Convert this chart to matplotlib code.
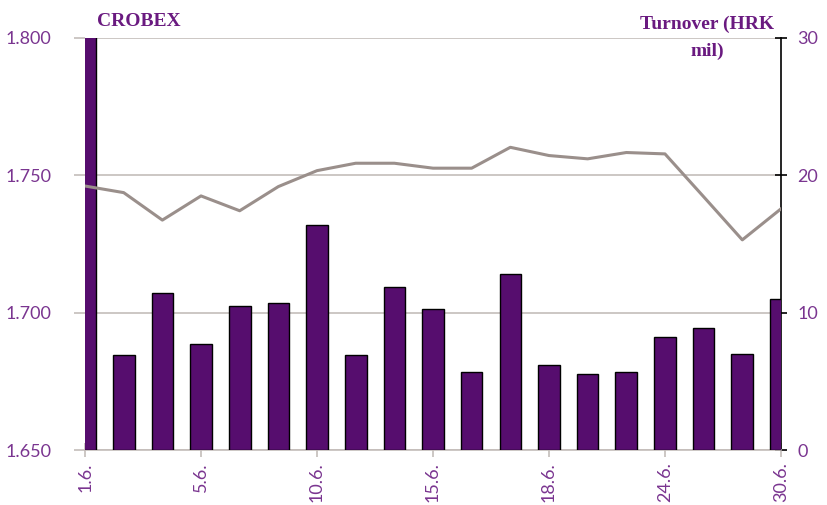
import numpy as np
import matplotlib
matplotlib.use("Agg")
import matplotlib.pyplot as plt
import matplotlib.ticker as tkr

#~~~~~~~~~~~~~~~~~~~~~~~~~~~~~~~~~~~~~~~~~~~~~~~~~~

# DATA

dates = ["1.6.", "2.6.", "3.6.", "5.6.", "8.6.", "9.6.", "10.6.", "11.6.",
         "12.6.", "15.6.", "16.6.", "17.6.", "18.6.", "19.6.", "23.6.",
         "24.6.", "26.6.", "29.6.", "30.6."]

crobex = [1.7461, 1.7437, 1.7337, 1.7425, 1.7371, 1.7459, 1.7517, 1.7544,
          1.7544, 1.7526, 1.7526, 1.7602, 1.7572, 1.7560, 1.7583, 1.7578,
          1.7422, 1.7265, 1.7378]

turnover = [31.5, 6.9, 11.4, 7.7, 10.5, 10.7, 16.4, 6.9, 11.9, 10.3, 5.7,
            12.8, 6.2, 5.5, 5.7, 8.2, 8.9, 7.0, 11.0]

#~~~~~~~~~~~~~~~~~~~~~~~~~~~~~~~~~~~~~~~~~~~~~~~~~~

# STYLE

PURPLE = "#560D6E"
TEXT = "#7A3590"
TITLE = "#6A1A80"
LINE = "#9A8F8B"
GRID = "#C4BDBA"

x = np.arange(len(dates))

#~~~~~~~~~~~~~~~~~~~~~~~~~~~~~~~~~~~~~~~~~~~~~~~~~~

# FIGURE AND AXES

figure, axBar = plt.subplots(figsize = (8.28, 5.05), dpi = 100)
figure.subplots_adjust(left = 0.1027, right = 0.9432, bottom = 0.1089, top = 0.9248)

axLine = axBar.twinx()

#~~~~~~~~~~~~~~~~~~~~~~~~~~~~~~~~~~~~~~~~~~~~~~~~~~

# BARS (right axis)

axBar.bar(x, turnover, width = 0.56, color = PURPLE, edgecolor = "black",
          linewidth = 1, zorder = 3)

axBar.set_xlim(0, len(dates) - 1)
axBar.set_ylim(0, 30)
axBar.yaxis.tick_right()
axBar.yaxis.set_major_locator(tkr.MultipleLocator(10))
axBar.grid(axis = "y", color = GRID, linewidth = 1.2, zorder = 0)
axBar.set_axisbelow(True)

axBar.set_xticks(x[::3])
axBar.set_xticklabels(dates[::3], rotation = 90)

#~~~~~~~~~~~~~~~~~~~~~~~~~~~~~~~~~~~~~~~~~~~~~~~~~~

# LINE (left axis)

axLine.plot(x, crobex, color = LINE, linewidth = 2.2, zorder = 4)
axLine.set_ylim(1.650, 1.800)
axLine.yaxis.tick_left()
axLine.yaxis.set_major_locator(tkr.MultipleLocator(0.05))
axLine.yaxis.set_major_formatter(tkr.FormatStrFormatter("%.3f"))

#~~~~~~~~~~~~~~~~~~~~~~~~~~~~~~~~~~~~~~~~~~~~~~~~~~

# SPINES AND TICKS

for ax in (axBar, axLine):
    ax.spines["top"].set_visible(False)
    ax.spines["left"].set_visible(False)
    ax.spines["right"].set_visible(False)
    ax.spines["bottom"].set_visible(False)

axBar.spines["bottom"].set_visible(True)
axBar.spines["bottom"].set_color(GRID)
axBar.spines["bottom"].set_linewidth(1.2)
axBar.spines["right"].set_visible(True)
axBar.spines["right"].set_color("black")
axBar.spines["right"].set_linewidth(1.2)

axBar.tick_params(axis = "x", direction = "inout", length = 10, color = GRID,
                  width = 1.2, labelcolor = TEXT, labelsize = 13, pad = 4,
                  labelfontfamily = "Lato")
axBar.tick_params(axis = "y", direction = "inout", length = 8, color = "black",
                  width = 1.2, labelcolor = TEXT, labelsize = 13, pad = 8,
                  labelfontfamily = "Lato")
axLine.tick_params(axis = "y", direction = "out", length = 8, color = GRID,
                   width = 1.2, labelcolor = TEXT, labelsize = 13, pad = 16,
                   labelfontfamily = "Lato")

#~~~~~~~~~~~~~~~~~~~~~~~~~~~~~~~~~~~~~~~~~~~~~~~~~~

# TITLES

figure.text(97 / 828, 1 - 22 / 505, "CROBEX", color = TITLE, fontsize = 14,
            fontweight = "bold", family = "Liberation Serif", va = "center")
figure.text(707 / 828, 1 - 38 / 505, "Turnover (HRK\nmil)", color = TITLE,
            fontsize = 14, fontweight = "bold", family = "Liberation Serif",
            ha = "center", va = "center", linespacing = 1.7)

#~~~~~~~~~~~~~~~~~~~~~~~~~~~~~~~~~~~~~~~~~~~~~~~~~~

# SAVING

figure.savefig("out.png", dpi = 100)
